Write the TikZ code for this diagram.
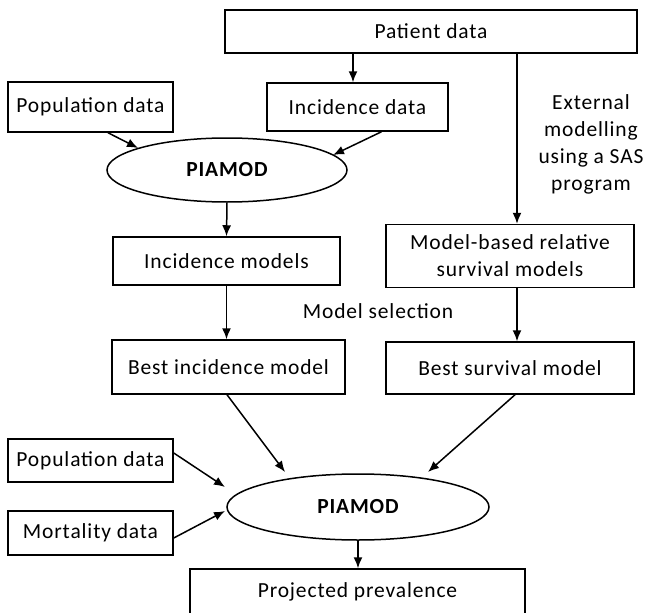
\documentclass[tikz,border=0pt]{standalone}
\usepackage{fontspec}
\setmainfont{Carlito}[LetterSpace=4]
\usetikzlibrary{arrows.meta,shapes.geometric,calc}
\begin{document}
\begin{tikzpicture}[x=1pt,y=-1pt,
  every node/.style={font=\fontsize{21.5}{27}\selectfont},
  box/.style={draw,line width=1.5pt,rectangle,inner sep=0pt,align=center},
  ell/.style={draw,line width=1.5pt,ellipse,inner sep=0pt,font=\fontsize{21.5}{27}\selectfont\bfseries},
  arr/.style={line width=1.5pt,-{Latex[length=11pt,width=9pt]}},
  lbl/.style={align=center,inner sep=0pt}]
\useasboundingbox (0,0) rectangle (646,613);
\node[box,minimum width=412pt,minimum height=43pt] (patient) at (431,31.5) {Patient data};
\node[box,minimum width=181pt,minimum height=48pt] (incdata) at (357.5,107) {Incidence data};
\node[box,minimum width=165pt,minimum height=50pt] (popA) at (90.5,107) {Population data};
\node[ell,minimum width=240pt,minimum height=64pt] (piaA) at (227,170) {PIAMOD};
\node[box,minimum width=227pt,minimum height=48pt] (incmod) at (226.5,261) {Incidence models};
\node[box,minimum width=248pt,minimum height=63pt] (mbrs) at (510,256) {Model-based relative\\survival models};
\node[lbl] (ext) at (591,144) {External\\modelling\\using a SAS\\program};
\node[lbl] (msel) at (378,311) {Model selection};
\node[box,minimum width=233pt,minimum height=54pt] (bestinc) at (228.5,367) {Best incidence model};
\node[box,minimum width=248pt,minimum height=52pt] (bestsurv) at (510,368) {Best survival model};
\node[box,minimum width=165pt,minimum height=43pt] (popB) at (90.5,460.5) {Population data};
\node[box,minimum width=165pt,minimum height=44pt] (mort) at (90.5,533) {Mortality data};
\node[ell,minimum width=262pt,minimum height=66pt] (piaB) at (358,507) {PIAMOD};
\node[box,minimum width=335pt,minimum height=46pt] (proj) at (357.5,592) {Projected prevalence};
% connectors
\draw[arr] (patient.south -| incdata.north) ++(-4.5,0) coordinate (pd1) -- (pd1 |- incdata.north);
\draw[arr] (patient.south -| mbrs.north) ++(7,0) coordinate (pd2) -- (pd2 |- mbrs.north);
\draw[arr] ([xshift=17.5pt]popA.south) -- ($(piaA.center)+(-89,-22)$);
\draw[arr] ([xshift=24pt]incdata.south) -- ($(piaA.center)+(106,-15)$);
\draw[arr] (piaA.south) -- (incmod.north);
\draw[arr] (incmod.south) -- (incmod.south |- bestinc.north);
\draw[arr] ([xshift=7pt]mbrs.south) -- ([xshift=7pt]mbrs.south |- bestsurv.north);
\draw[arr] ([xshift=-1.5pt]bestinc.south) -- ($(piaB.center)+(-73,-35)$);
\draw[arr] ([xshift=5pt]bestsurv.south) -- ($(piaB.center)+(70,-35)$);
\draw[arr] ([yshift=7.5pt]popB.east) -- ($(piaB.center)+(-133,-20)$);
\draw[arr] ([yshift=-5pt]mort.east) -- ($(piaB.center)+(-133,4)$);
\draw[arr] (piaB.south) -- (piaB.south |- proj.north);
\end{tikzpicture}
\end{document}
